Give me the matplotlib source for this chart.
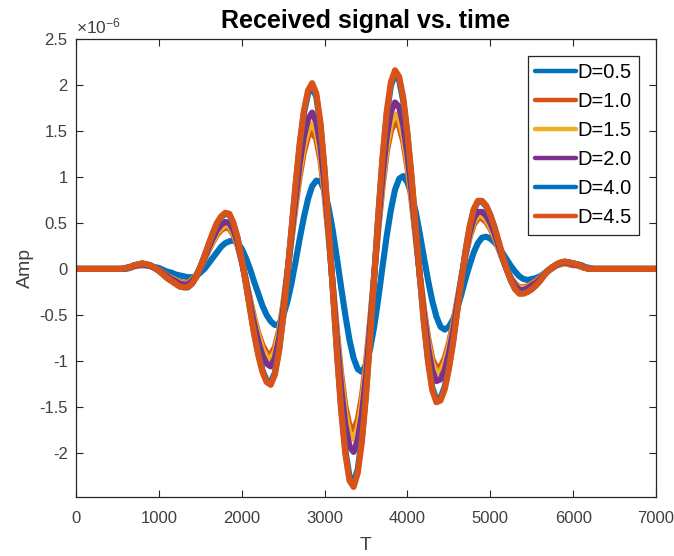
import numpy as np
import matplotlib
matplotlib.use("Agg")
import matplotlib.pyplot as plt
from matplotlib.ticker import FuncFormatter

plt.rcParams["font.family"] = ["Liberation Sans", "DejaVu Sans"]
plt.rcParams["axes.unicode_minus"] = False
plt.rcParams["mathtext.fontset"] = "custom"
plt.rcParams["mathtext.rm"] = "Liberation Sans"

# sample times, one every 50
t = np.arange(0, 7001, 50)

# received amplitude (x1e-6) for each distance D
amp_d05 = [
    0, 0, 0, 0, 0, 0, 0, 0, 0, 0, 0, 0,
    0.00, 0.01, 0.03, 0.04, 0.04, 0.04, 0.03, 0.02, 0.01, -0.01,
    -0.03, -0.04, -0.06, -0.07, -0.08, -0.09, -0.09, -0.08, -0.04, 0.00,
    0.06, 0.12, 0.18, 0.24, 0.28, 0.30, 0.31, 0.28, 0.22, 0.12,
    0.00, -0.14, -0.27, -0.40, -0.50, -0.57, -0.61, -0.60, -0.51, -0.36,
    -0.16, 0.08, 0.33, 0.56, 0.76, 0.90, 0.96, 0.95, 0.85, 0.66,
    0.41, 0.11, -0.20, -0.50, -0.77, -0.97, -1.09, -1.12, -1.04, -0.87,
    -0.62, -0.31, 0.03, 0.36, 0.64, 0.86, 0.98, 1.01, 0.94, 0.81,
    0.62, 0.38, 0.12, -0.13, -0.35, -0.52, -0.63, -0.66, -0.63, -0.55,
    -0.43, -0.28, -0.11, 0.04, 0.18, 0.28, 0.34, 0.35, 0.33, 0.29,
    0.24, 0.17, 0.10, 0.03, -0.03, -0.08, -0.11, -0.12, -0.11, -0.10,
    -0.08, -0.05, -0.02, 0.01, 0.04, 0.06, 0.07, 0.07, 0.06, 0.05,
    0.04, 0.02, 0.01,
    0, 0, 0, 0, 0, 0, 0, 0, 0, 0, 0, 0, 0, 0, 0, 0,
]
amp_d10 = [
    0, 0, 0, 0, 0, 0, 0, 0, 0, 0, 0, 0,
    0.01, 0.01, 0.03, 0.04, 0.04, 0.04, 0.03, 0.01, -0.01, -0.04,
    -0.07, -0.10, -0.12, -0.14, -0.15, -0.15, -0.12, -0.07, 0.01, 0.10,
    0.20, 0.29, 0.37, 0.42, 0.45, 0.44, 0.37, 0.25, 0.08, -0.12,
    -0.33, -0.53, -0.70, -0.83, -0.91, -0.93, -0.85, -0.67, -0.39, -0.05,
    0.32, 0.68, 1.01, 1.27, 1.44, 1.49, 1.41, 1.18, 0.80, 0.33,
    -0.18, -0.69, -1.14, -1.49, -1.70, -1.75, -1.64, -1.39, -1.02, -0.56,
    -0.05, 0.45, 0.90, 1.27, 1.50, 1.60, 1.55, 1.38, 1.10, 0.74,
    0.34, -0.07, -0.44, -0.75, -0.98, -1.07, -1.06, -0.97, -0.81, -0.60,
    -0.35, -0.10, 0.14, 0.34, 0.48, 0.55, 0.55, 0.51, 0.44, 0.34,
    0.22, 0.10, -0.01, -0.10, -0.16, -0.20, -0.20, -0.19, -0.16, -0.13,
    -0.10, -0.05, -0.01, 0.01, 0.04, 0.05, 0.06, 0.05, 0.04, 0.04,
    0.02, 0.01, 0.00,
    0, 0, 0, 0, 0, 0, 0, 0, 0, 0, 0, 0, 0, 0, 0, 0,
]
amp_d15 = [
    0, 0, 0, 0, 0, 0, 0, 0, 0, 0, 0, 0,
    0.01, 0.02, 0.03, 0.04, 0.05, 0.04, 0.03, 0.01, -0.02, -0.05,
    -0.08, -0.10, -0.12, -0.15, -0.16, -0.16, -0.12, -0.07, 0.02, 0.11,
    0.21, 0.30, 0.39, 0.44, 0.48, 0.47, 0.39, 0.27, 0.09, -0.12,
    -0.34, -0.55, -0.73, -0.87, -0.96, -0.98, -0.90, -0.70, -0.41, -0.05,
    0.34, 0.72, 1.07, 1.34, 1.51, 1.58, 1.49, 1.24, 0.84, 0.35,
    -0.19, -0.73, -1.20, -1.57, -1.79, -1.85, -1.73, -1.47, -1.08, -0.59,
    -0.05, 0.48, 0.95, 1.33, 1.58, 1.68, 1.63, 1.45, 1.15, 0.78,
    0.36, -0.07, -0.47, -0.80, -1.03, -1.13, -1.12, -1.02, -0.85, -0.63,
    -0.37, -0.10, 0.15, 0.36, 0.51, 0.58, 0.58, 0.54, 0.46, 0.36,
    0.23, 0.11, -0.01, -0.10, -0.17, -0.21, -0.21, -0.20, -0.17, -0.14,
    -0.10, -0.05, -0.02, 0.02, 0.04, 0.05, 0.06, 0.05, 0.05, 0.04,
    0.02, 0.01, 0.00,
    0, 0, 0, 0, 0, 0, 0, 0, 0, 0, 0, 0, 0, 0, 0, 0,
]
amp_d20 = [
    0, 0, 0, 0, 0, 0, 0, 0, 0, 0, 0, 0,
    0.01, 0.02, 0.03, 0.04, 0.05, 0.04, 0.03, 0.01, -0.02, -0.05,
    -0.08, -0.11, -0.13, -0.16, -0.17, -0.17, -0.13, -0.08, 0.02, 0.12,
    0.23, 0.33, 0.42, 0.48, 0.51, 0.50, 0.42, 0.29, 0.09, -0.13,
    -0.37, -0.60, -0.79, -0.94, -1.03, -1.06, -0.97, -0.76, -0.45, -0.06,
    0.36, 0.77, 1.15, 1.44, 1.63, 1.70, 1.60, 1.34, 0.91, 0.38,
    -0.20, -0.78, -1.29, -1.69, -1.93, -1.99, -1.86, -1.58, -1.16, -0.63,
    -0.06, 0.51, 1.02, 1.44, 1.71, 1.81, 1.76, 1.56, 1.24, 0.84,
    0.39, -0.08, -0.50, -0.86, -1.11, -1.22, -1.20, -1.10, -0.92, -0.68,
    -0.39, -0.11, 0.16, 0.39, 0.55, 0.62, 0.62, 0.58, 0.50, 0.39,
    0.25, 0.12, -0.01, -0.11, -0.18, -0.23, -0.23, -0.21, -0.18, -0.15,
    -0.11, -0.06, -0.02, 0.02, 0.04, 0.06, 0.07, 0.06, 0.05, 0.04,
    0.03, 0.01, 0.00,
    0, 0, 0, 0, 0, 0, 0, 0, 0, 0, 0, 0, 0, 0, 0, 0,
]
amp_d40 = [
    0, 0, 0, 0, 0, 0, 0, 0, 0, 0, 0, 0,
    0.01, 0.02, 0.04, 0.05, 0.06, 0.05, 0.04, 0.01, -0.02, -0.06,
    -0.10, -0.13, -0.16, -0.19, -0.20, -0.20, -0.16, -0.09, 0.02, 0.14,
    0.26, 0.38, 0.49, 0.56, 0.60, 0.59, 0.49, 0.33, 0.11, -0.16,
    -0.43, -0.70, -0.92, -1.10, -1.21, -1.23, -1.13, -0.88, -0.52, -0.07,
    0.42, 0.90, 1.34, 1.69, 1.90, 1.98, 1.87, 1.56, 1.06, 0.44,
    -0.24, -0.91, -1.51, -1.97, -2.25, -2.32, -2.18, -1.84, -1.35, -0.74,
    -0.07, 0.60, 1.20, 1.68, 1.99, 2.12, 2.05, 1.82, 1.45, 0.98,
    0.45, -0.09, -0.59, -1.00, -1.29, -1.42, -1.40, -1.28, -1.07, -0.79,
    -0.46, -0.13, 0.19, 0.45, 0.64, 0.73, 0.73, 0.68, 0.58, 0.45,
    0.29, 0.14, -0.01, -0.13, -0.22, -0.26, -0.26, -0.25, -0.22, -0.18,
    -0.13, -0.07, -0.02, 0.02, 0.05, 0.07, 0.08, 0.07, 0.06, 0.05,
    0.03, 0.01, 0.00,
    0, 0, 0, 0, 0, 0, 0, 0, 0, 0, 0, 0, 0, 0, 0, 0,
]
amp_d45 = [
    0, 0, 0, 0, 0, 0, 0, 0, 0, 0, 0, 0,
    0.01, 0.02, 0.04, 0.05, 0.06, 0.05, 0.04, 0.01, -0.02, -0.06,
    -0.10, -0.13, -0.16, -0.19, -0.20, -0.20, -0.16, -0.09, 0.02, 0.14,
    0.27, 0.39, 0.50, 0.57, 0.61, 0.60, 0.50, 0.34, 0.11, -0.16,
    -0.44, -0.71, -0.94, -1.12, -1.23, -1.26, -1.15, -0.90, -0.53, -0.07,
    0.43, 0.92, 1.37, 1.72, 1.94, 2.02, 1.91, 1.59, 1.08, 0.45,
    -0.24, -0.93, -1.54, -2.01, -2.30, -2.37, -2.22, -1.88, -1.38, -0.75,
    -0.07, 0.61, 1.22, 1.71, 2.03, 2.16, 2.09, 1.86, 1.48, 1.00,
    0.46, -0.09, -0.60, -1.02, -1.32, -1.45, -1.43, -1.31, -1.09, -0.81,
    -0.47, -0.13, 0.19, 0.46, 0.65, 0.74, 0.74, 0.69, 0.59, 0.46,
    0.30, 0.14, -0.01, -0.13, -0.22, -0.27, -0.27, -0.25, -0.22, -0.18,
    -0.13, -0.07, -0.02, 0.02, 0.05, 0.07, 0.08, 0.07, 0.06, 0.05,
    0.03, 0.01, 0.00,
    0, 0, 0, 0, 0, 0, 0, 0, 0, 0, 0, 0, 0, 0, 0, 0,
]

labels = ["D=0.5", "D=1.0", "D=1.5", "D=2.0", "D=4.0", "D=4.5"]
series = [amp_d05, amp_d10, amp_d15, amp_d20, amp_d40, amp_d45]
# matlab default colour order, restarted after four lines
colors = ["#0072BD", "#D95319", "#EDB120", "#7E2F8E", "#0072BD", "#D95319"]

fig = plt.figure(figsize=(6.74, 5.56), dpi=100)
ax = fig.add_axes([0.1128, 0.1061, 0.8605, 0.8238])

for y, lab, c in zip(series, labels, colors):
    ax.plot(t, y, color=c, lw=4.4, label=lab,
            solid_joinstyle="round", solid_capstyle="round")

ax.set_xlim(0, 7000)
ax.set_ylim(-2.48, 2.5)
ax.set_xticks(range(0, 7001, 1000))
ax.set_yticks(np.arange(-2, 2.51, 0.5))
ax.yaxis.set_major_formatter(FuncFormatter(lambda v, p: "%g" % v))

axis_col = "#262626"
for s in ax.spines.values():
    s.set_color(axis_col)
    s.set_linewidth(0.9)
ax.tick_params(axis="both", direction="in", top=True, right=True, length=5,
               width=0.8, color=axis_col, labelcolor="#404040", labelsize=12)
ax.tick_params(axis="x", pad=10)
ax.tick_params(axis="y", pad=6)

ax.text(0.0, 1.006, r"$\times\mathregular{10^{-6}}$", transform=ax.transAxes,
        fontsize=12.5, color="#404040", ha="left", va="bottom")

ax.set_title("Received signal vs. time", fontsize=18, fontweight="bold", pad=8)
ax.set_xlabel("T", fontsize=14, color="#404040", labelpad=8)
ax.set_ylabel("Amp", fontsize=14, color="#404040", labelpad=4)

leg = ax.legend(loc="upper right", fontsize=14.5, fancybox=False, framealpha=1,
                edgecolor=axis_col, handlelength=2.0, handletextpad=0.1,
                labelspacing=0.5, borderpad=0.35, borderaxespad=0.85)
leg.get_frame().set_linewidth(0.9)
for h in leg.get_lines():
    h.set_linewidth(3.2)

fig.savefig("out.png", dpi=100)
